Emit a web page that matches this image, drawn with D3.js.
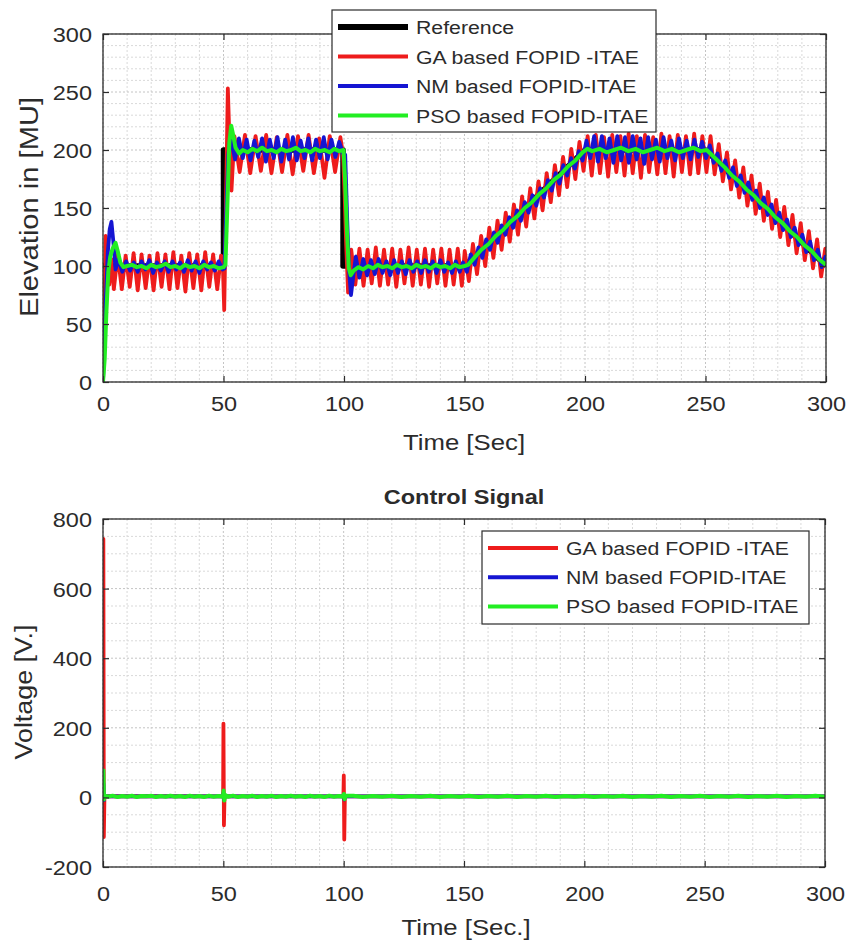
<!DOCTYPE html>
<html>
<head>
<meta charset="utf-8">
<script src="https://cdn.jsdelivr.net/npm/d3@7"></script>
<style>
body { margin: 0; background: #fff; }
text { font-family: "Liberation Sans", Arial, Helvetica, sans-serif; fill: #2b2b2b; }
</style>
</head>
<body>
<div id="chart"></div>
<script>
// ---- data ----
var seriesNames = ['Reference', 'GA based FOPID -ITAE', 'NM based FOPID-ITAE', 'PSO based FOPID-ITAE'];
var timeTicks = [0, 50, 100, 150, 200, 250, 300];
var elevTicks = [0, 50, 100, 150, 200, 250, 300];
var voltTicks = [-200, 0, 200, 400, 600, 800];

// [time, elevation]
var refElev = [[0, 100], [50, 100], [50, 200], [99.6, 200], [99.6, 100], [150, 100], [200, 200], [250, 200], [300, 100]];

var gaElev = [[0, 0], [0.5, 48], [1.1, 126], [1.8, 100], [2.6, 84], [3.5, 106], [4.5, 80],
	[6.1, 110], [7.8, 80], [9.4, 109], [11.1, 82], [12.7, 111], [14.4, 79], [16.0, 110], [17.7, 81], [19.3, 109],
	[21.0, 79], [22.6, 111], [24.3, 82], [25.9, 110], [27.6, 80], [29.2, 112], [30.9, 81], [32.5, 109], [34.2, 78],
	[35.8, 111], [37.5, 81], [39.1, 110], [40.8, 79], [42.4, 112], [44.1, 82], [45.7, 110], [47.4, 80], [49.0, 109],
	[49.8, 96], [50.3, 62], [51.0, 150], [51.8, 253], [52.6, 200], [53.3, 165], [54.5, 212], [56.7, 181], [58.9, 213],
	[61.1, 180], [63.3, 212], [65.5, 182], [67.7, 213], [69.9, 180], [72.1, 211], [74.3, 181], [76.5, 213], [78.7, 179],
	[80.9, 212], [83.1, 182], [85.3, 213], [87.5, 180], [89.7, 210], [91.9, 176], [94.1, 212], [96.3, 181], [98.5, 211],
	[99.6, 196], [100.3, 160], [100.9, 118], [101.7, 77], [103.0, 114], [104.7, 84], [106.4, 115], [108.1, 83],
	[109.8, 114], [111.5, 85], [113.2, 116], [114.9, 83], [116.6, 114], [118.3, 84], [120.0, 115], [121.7, 82],
	[123.4, 114], [125.1, 85], [126.8, 116], [128.5, 83], [130.2, 114], [131.9, 84], [133.6, 115], [135.3, 82],
	[137.0, 114], [138.7, 85], [140.4, 115], [142.1, 83], [143.8, 114], [145.5, 84], [147.2, 115], [148.9, 83],
	[150.1, 113], [151.8, 87], [153.5, 119], [155.2, 93], [156.9, 126], [158.6, 100], [160.3, 133], [162.0, 107],
	[163.7, 139], [165.4, 114], [167.1, 146], [168.8, 121], [170.5, 153], [172.2, 127], [173.9, 160], [175.6, 134],
	[177.3, 167], [179.0, 141], [180.7, 173], [182.4, 148], [184.1, 180], [185.8, 155], [187.5, 187], [189.2, 161],
	[190.9, 194], [192.6, 168], [194.3, 201], [196.0, 175], [197.7, 207], [199.4, 182], [201.1, 212], [202.8, 178],
	[204.5, 213], [206.2, 180], [207.9, 211], [209.6, 177], [211.3, 213], [213.0, 181], [214.7, 212], [216.4, 178],
	[218.1, 214], [219.8, 180], [221.5, 212], [223.2, 176], [224.9, 213], [226.6, 181], [228.3, 211], [230.0, 179],
	[231.7, 214], [233.4, 180], [235.1, 212], [236.8, 177], [238.5, 213], [240.2, 181], [241.9, 212], [243.6, 179],
	[245.3, 214], [247.0, 180], [248.7, 212], [250.4, 181], [252.1, 212], [253.8, 179], [255.5, 205], [257.2, 173],
	[258.9, 198], [260.6, 166], [262.3, 191], [264.0, 159], [265.7, 185], [267.4, 152], [269.1, 178], [270.8, 145],
	[272.5, 171], [274.2, 139], [275.9, 164], [277.6, 132], [279.3, 157], [281.0, 125], [282.7, 151], [284.4, 118],
	[286.1, 144], [287.8, 111], [289.5, 137], [291.2, 105], [292.9, 130], [294.6, 98], [296.3, 123], [298.0, 91],
	[299.7, 115], [300, 112]];

var nmElev = [[0, 0], [1.0, 62], [2.0, 112], [2.8, 132], [3.5, 138], [4.3, 121], [5.2, 97], [6.4, 106], [8.0, 95],
	[9.6, 104], [11.2, 96], [12.8, 103], [14.4, 95], [16.0, 104], [17.6, 97], [19.2, 105], [20.8, 94], [22.4, 103],
	[24.0, 96], [25.6, 104], [27.2, 95], [28.8, 104], [30.4, 97], [32.0, 103], [33.6, 95], [35.2, 105], [36.8, 96],
	[38.4, 104], [40.0, 94], [41.6, 104], [43.2, 97], [44.8, 103], [46.4, 96], [48.0, 104], [49.6, 97], [50.4, 98],
	[51.2, 150], [52.0, 196], [52.8, 212], [53.6, 204], [54.8, 192], [56.4, 210], [58.0, 193], [59.6, 209], [61.2, 191],
	[62.8, 208], [64.4, 194], [66.0, 210], [67.6, 190], [69.2, 209], [70.8, 193], [72.4, 211], [74.0, 190], [75.6, 209],
	[77.2, 192], [78.8, 211], [80.4, 191], [82.0, 208], [83.6, 193], [85.2, 210], [86.8, 191], [88.4, 209], [90.0, 193],
	[91.6, 211], [93.2, 192], [94.8, 209], [96.4, 194], [98.0, 207], [99.6, 197], [100.5, 196], [101.3, 142],
	[102.1, 96], [102.9, 75], [103.9, 92], [104.9, 108], [106.4, 90], [108.0, 106], [109.6, 92], [111.2, 105],
	[112.8, 93], [114.4, 106], [116.0, 94], [117.6, 104], [119.2, 92], [120.8, 105], [122.4, 94], [124.0, 104],
	[125.6, 93], [127.2, 105], [128.8, 95], [130.4, 104], [132.0, 94], [133.6, 105], [135.2, 95], [136.8, 104],
	[138.4, 94], [140.0, 105], [141.6, 95], [143.2, 103], [144.8, 94], [146.4, 104], [148.0, 95], [149.4, 103],
	[151.0, 95], [152.6, 110], [154.2, 101], [155.8, 116], [157.4, 107], [159.0, 123], [160.6, 114], [162.2, 129],
	[163.8, 120], [165.4, 135], [167.0, 127], [168.6, 142], [170.2, 133], [171.8, 148], [173.4, 139], [175.0, 155],
	[176.6, 146], [178.2, 161], [179.8, 152], [181.4, 167], [183.0, 159], [184.6, 174], [186.2, 165], [187.8, 180],
	[189.4, 171], [191.0, 187], [192.6, 178], [194.2, 193], [195.8, 184], [197.4, 199], [199.0, 191], [200.6, 208],
	[202.2, 193], [203.8, 212], [205.4, 190], [207.0, 212], [208.6, 193], [210.2, 210], [211.8, 189], [213.4, 212],
	[215.0, 191], [216.6, 211], [218.2, 189], [219.8, 212], [221.4, 192], [223.0, 210], [224.6, 188], [226.2, 211],
	[227.8, 192], [229.4, 209], [231.0, 190], [232.6, 211], [234.2, 193], [235.8, 208], [237.4, 191], [239.0, 210],
	[240.6, 193], [242.2, 208], [243.8, 192], [245.4, 209], [247.0, 194], [248.6, 207], [250.2, 193], [251.8, 204],
	[253.4, 189], [255.0, 197], [256.6, 182], [258.2, 191], [259.8, 176], [261.4, 185], [263.0, 169], [264.6, 178],
	[266.2, 163], [267.8, 172], [269.4, 157], [271.0, 165], [272.6, 150], [274.2, 159], [275.8, 144], [277.4, 153],
	[279.0, 137], [280.6, 146], [282.2, 131], [283.8, 140], [285.4, 125], [287.0, 133], [288.6, 118], [290.2, 127],
	[291.8, 112], [293.4, 121], [295.0, 105], [296.6, 114], [298.2, 99], [299.8, 108], [300, 104]];

var psoElev = [[0, 0], [0.7, 20], [1.4, 60], [2.2, 95], [3.0, 108], [4.0, 115], [5.2, 120], [6.2, 112], [7.2, 103],
	[8.5, 99], [10.0, 100], [12.0, 101], [14.0, 99], [16.0, 100], [18.0, 98], [20.0, 101], [22.0, 99], [24.0, 100],
	[26.0, 102], [28.0, 99], [30.0, 100], [32.0, 98], [34.0, 101], [36.0, 99], [38.0, 100], [40.0, 98], [42.0, 101],
	[44.0, 99], [46.0, 100], [48.0, 98], [50.0, 99], [50.8, 101], [51.6, 152], [52.4, 206], [53.2, 221], [54.0, 213],
	[55.0, 202], [56.5, 197], [58.0, 200], [60.0, 198], [62.0, 201], [64.0, 199], [66.0, 202], [68.0, 199], [70.0, 200],
	[72.0, 198], [74.0, 201], [76.0, 199], [78.0, 200], [80.0, 202], [82.0, 199], [84.0, 200], [86.0, 198], [88.0, 201],
	[90.0, 199], [92.0, 200], [94.0, 198], [96.0, 201], [98.0, 199], [99.8, 200], [100.4, 176], [101.2, 131],
	[102.0, 98], [102.8, 92], [104.0, 96], [106.0, 99], [108.0, 97], [110.0, 100], [112.0, 98], [114.0, 101],
	[116.0, 99], [118.0, 100], [120.0, 98], [122.0, 101], [124.0, 99], [126.0, 100], [128.0, 98], [130.0, 101],
	[132.0, 99], [134.0, 100], [136.0, 98], [138.0, 101], [140.0, 99], [142.0, 100], [144.0, 98], [146.0, 101],
	[148.0, 99], [150.0, 100], [151.5, 101], [154.0, 107], [157.0, 114], [160.0, 119], [163.0, 126], [166.0, 131],
	[169.0, 138], [172.0, 143], [175.0, 150], [178.0, 155], [181.0, 162], [184.0, 167], [187.0, 174], [190.0, 179],
	[193.0, 186], [196.0, 191], [199.0, 198], [201.0, 201], [203.0, 199], [206.0, 201], [209.0, 198], [212.0, 200],
	[215.0, 202], [218.0, 199], [221.0, 201], [224.0, 198], [227.0, 200], [230.0, 202], [233.0, 199], [236.0, 201],
	[239.0, 198], [242.0, 200], [245.0, 202], [248.0, 199], [250.5, 200], [252.0, 197], [255.0, 191], [258.0, 185],
	[261.0, 178], [264.0, 173], [267.0, 166], [270.0, 161], [273.0, 154], [276.0, 149], [279.0, 142], [282.0, 137],
	[285.0, 130], [288.0, 125], [291.0, 118], [294.0, 113], [297.0, 106], [300.0, 101]];

// [time, voltage]
var gaCtrl = [[0, 0], [0.15, 743], [0.35, -114], [0.6, 4], [49.9, 3], [50.05, 212], [50.25, -80], [50.5, 3],
	[99.9, 3], [100.05, 63], [100.25, -121], [100.5, 3], [300, 3]];
var nmCtrl = [[0, 0], [0.15, 40], [0.35, -8], [0.6, 3], [49.9, 3], [50.05, 12], [50.25, -6], [50.5, 3],
	[99.9, 3], [100.05, 6], [100.25, -6], [100.5, 3], [300, 3]];
var psoCtrl = [[0, 0], [0.15, 77], [0.4, -6], [0.8, 5], [2, 2], [4, 5], [6, 1], [8, 4], [10, 2], [12, 5], [14, 1],
	[16, 4], [18, 3], [20, 5], [22, 1], [24, 4], [26, 2], [28, 5], [30, 2], [32, 4], [34, 1], [36, 5], [38, 2], [40, 4],
	[42, 1], [44, 5], [46, 2], [48, 4], [49.9, 2], [50.1, 20], [50.4, -9], [50.8, 7], [52, 2], [54, 5], [56, 1], [58, 4],
	[60, 2], [62, 5], [64, 1], [66, 4], [68, 2], [70, 5], [72, 1], [74, 4], [76, 2], [78, 5], [80, 2], [82, 4], [84, 1],
	[86, 5], [88, 2], [90, 4], [92, 1], [94, 5], [96, 2], [98, 4], [99.9, 2], [100.1, 10], [100.4, -5], [100.8, 5],
	[104, 5], [108, 1], [112, 4], [116, 2], [120, 5], [124, 1], [128, 4], [132, 2], [136, 5], [140, 1], [144, 4],
	[148, 2], [152, 5], [156, 1], [160, 4], [164, 2], [168, 5], [172, 1], [176, 4], [180, 2], [184, 5], [188, 1],
	[192, 4], [196, 2], [200, 5], [204, 1], [208, 4], [212, 2], [216, 5], [220, 1], [224, 4], [228, 2], [232, 5],
	[236, 1], [240, 4], [244, 2], [248, 5], [252, 1], [256, 4], [260, 2], [264, 5], [268, 1], [272, 4], [276, 2],
	[280, 5], [284, 1], [288, 4], [292, 2], [296, 5], [300, 2]];

// ---- drawing ----
var W = 851, H = 946;
var STRETCH = 1.12;   // the text in the figure is a bit wider than plain Arial
var ink = '#2b2b2b';
var colors = ['#000000', '#ee1c1c', '#1515d2', '#22ee22'];
var widths = [5.5, 3.8, 3.8, 4];

var svg = d3.select('#chart')
	.append('svg')
	.attr('width', W)
	.attr('height', H)
	.style('background-color', '#fff');

function panel(o) {
	var x = d3.scaleLinear().domain([0, 300]).range([o.left, o.right]);
	var y = d3.scaleLinear().domain(o.yDomain).range([o.bottom, o.top]);
	var g = svg.append('g');

	// minor grid, then major grid
	var grid = g.append('g');
	x.ticks(30).forEach(function(d) {
		grid.append('line').attr('x1', x(d)).attr('x2', x(d)).attr('y1', o.top).attr('y2', o.bottom)
			.attr('stroke', timeTicks.indexOf(d) >= 0 ? '#c4c4c4' : '#d9d9d9')
			.attr('stroke-dasharray', '2,2');
	});
	y.ticks(o.yMinor).forEach(function(d) {
		grid.append('line').attr('x1', o.left).attr('x2', o.right).attr('y1', y(d)).attr('y2', y(d))
			.attr('stroke', o.yTicks.indexOf(d) >= 0 ? '#c4c4c4' : '#d9d9d9')
			.attr('stroke-dasharray', '2,2');
	});

	var clipId = 'clip' + o.id;
	svg.append('clipPath').attr('id', clipId).append('rect')
		.attr('x', o.left).attr('y', o.top).attr('width', o.right - o.left).attr('height', o.bottom - o.top);

	var line = d3.line().x(function(d) { return x(d[0]); }).y(function(d) { return y(d[1]); });
	g.append('g').attr('clip-path', 'url(#' + clipId + ')')
		.selectAll('path').data(o.series).enter().append('path')
		.attr('d', function(d) { return line(d.values); })
		.attr('fill', 'none')
		.attr('stroke', function(d) { return colors[d.k]; })
		.attr('stroke-width', function(d) { return widths[d.k]; })
		.attr('stroke-linejoin', 'round');

	// axes, ticks pointing inward on all four sides
	var plain = function(d) { return String(d); };
	var xb = g.append('g').attr('transform', 'translate(0,' + o.bottom + ')')
		.call(d3.axisBottom(x).tickValues(timeTicks).tickSize(-6).tickSizeOuter(0).tickFormat(plain));
	var yl = g.append('g').attr('transform', 'translate(' + o.left + ',0)')
		.call(d3.axisLeft(y).tickValues(o.yTicks).tickSize(-6).tickSizeOuter(0).tickFormat(plain));
	g.append('g').attr('transform', 'translate(0,' + o.top + ')')
		.call(d3.axisTop(x).tickValues(timeTicks).tickSize(-6).tickSizeOuter(0).tickFormat(''));
	g.append('g').attr('transform', 'translate(' + o.right + ',0)')
		.call(d3.axisRight(y).tickValues(o.yTicks).tickSize(-6).tickSizeOuter(0).tickFormat(''));
	g.selectAll('.domain').remove();
	g.selectAll('.tick line').attr('stroke', ink).attr('stroke-width', 1.2);
	g.selectAll('.tick text')
		.attr('font-size', 21)
		.attr('font-family', '"Liberation Sans", Arial, sans-serif')
		.attr('fill', ink);
	xb.selectAll('.tick text').attr('y', o.xLabelTop).attr('dy', '0.71em')
		.attr('transform', 'scale(' + STRETCH + ',1)');
	yl.selectAll('.tick text').attr('x', -11 / STRETCH).attr('dy', '0.36em')
		.attr('transform', 'scale(' + STRETCH + ',1)');

	g.append('rect')
		.attr('x', o.left).attr('y', o.top)
		.attr('width', o.right - o.left).attr('height', o.bottom - o.top)
		.attr('fill', 'none').attr('stroke', ink).attr('stroke-width', 1.3);

	return { x: x, y: y };
}

function label(txt, x, y, size, rotate, bold) {
	svg.append('text')
		.attr('transform', 'translate(' + x + ',' + y + ')' + (rotate ? ' rotate(-90)' : '') + ' scale(' + STRETCH + ',1)')
		.attr('text-anchor', 'middle')
		.attr('font-size', size)
		.attr('font-weight', bold ? 'bold' : 'normal')
		.text(txt);
}

function legend(keys, box) {
	var lg = svg.append('g');
	lg.append('rect')
		.attr('x', box.x).attr('y', box.y).attr('width', box.w).attr('height', box.h)
		.attr('fill', '#fff').attr('stroke', ink).attr('stroke-width', 1.2);
	keys.forEach(function(k, i) {
		var cy = box.row0 + i * box.gap;
		lg.append('line')
			.attr('x1', box.x + 6).attr('x2', box.x + 76).attr('y1', cy).attr('y2', cy)
			.attr('stroke', colors[k]).attr('stroke-width', k === 0 ? 6 : 4);
		lg.append('text')
			.attr('transform', 'translate(' + (box.x + 84) + ',' + (cy + 7) + ') scale(' + STRETCH + ',1)')
			.attr('font-size', 19)
			.text(seriesNames[k]);
	});
}

// upper panel: elevation
panel({
	id: 'top', left: 103, right: 826, top: 34, bottom: 382,
	yDomain: [0, 300], yTicks: elevTicks, yMinor: 30, xLabelTop: 14,
	series: [
		{ k: 0, values: refElev },
		{ k: 1, values: gaElev },
		{ k: 2, values: nmElev },
		{ k: 3, values: psoElev }
	]
});
label('Time [Sec]', 464, 450, 23);
label('Elevation in [MU]', 38, 207, 26, true);
legend([0, 1, 2, 3], { x: 332, y: 10, w: 324, h: 122, row0: 27, gap: 29.5 });

// lower panel: control signal
panel({
	id: 'bot', left: 103, right: 825, top: 519, bottom: 867,
	yDomain: [-200, 800], yTicks: voltTicks, yMinor: 20, xLabelTop: 19,
	series: [
		{ k: 1, values: gaCtrl },
		{ k: 2, values: nmCtrl },
		{ k: 3, values: psoCtrl }
	]
});
label('Control Signal', 464, 504, 21, false, true);
label('Time [Sec.]', 466, 935, 23);
label('Voltage [V.]', 32, 692, 24, true);
legend([1, 2, 3], { x: 482, y: 531, w: 327, h: 93, row0: 548, gap: 29.2 });
</script>
</body>
</html>
